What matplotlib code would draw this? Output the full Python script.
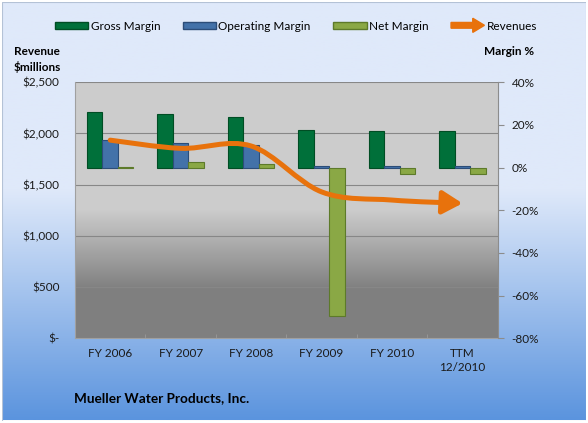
import numpy as np
import matplotlib
matplotlib.use('Agg')
import matplotlib.pyplot as plt
import matplotlib.patches as mpatches
from matplotlib.path import Path
from matplotlib.legend_handler import HandlerPatch

# data
categories = ['FY 2006', 'FY 2007', 'FY 2008', 'FY 2009', 'FY 2010', 'TTM\n12/2010']
gross_margin = [26.0, 25.3, 23.9, 17.8, 17.3, 17.4]
operating_margin = [12.9, 11.5, 10.8, 0.8, 0.8, 0.8]
net_margin = [0.4, 2.6, 1.6, -69.7, -3.1, -3.1]
revenues = [1935, 1855, 1878, 1430, 1350, 1318]

rev_ticks = [0, 500, 1000, 1500, 2000, 2500]
rev_labels = ['$-', '$500', '$1,000', '$1,500', '$2,000', '$2,500']
pct_ticks = [-80, -60, -40, -20, 0, 20, 40]
pct_labels = ['-80%', '-60%', '-40%', '-20%', '0%', '20%', '40%']

GREEN = '#00703a'
BLUE = '#4372a9'
OLIVE = '#8aa845'
ORANGE = '#e8720c'

plt.rcParams['font.family'] = ['Lato', 'DejaVu Sans']
FS = 8.5

W, H = 588, 423
fig = plt.figure(figsize=(W / 100, H / 100), dpi=100, facecolor='white')

# figure background gradient (light blue -> blue)
bg = fig.add_axes([2 / W, 2.5 / H, 584 / W, 418.5 / H])
rows = np.linspace(0, 1, 300)
top_c = np.array([223, 233, 250]) / 255
bot_c = np.array([91, 148, 222]) / 255
t = np.clip((rows - 0.45) / 0.55, 0, 1)[:, None]
grad = (top_c * (1 - t) + bot_c * t)[:, None, :]
bg.imshow(grad, aspect='auto', extent=[0, 1, 0, 1])
bg.axis('off')
bg.add_patch(mpatches.Rectangle((0, 0), 1, 1, transform=bg.transAxes, fill=False,
                                edgecolor='#b4c2d6', lw=0.8))

# plot area
ax = fig.add_axes([75 / W, 1 - 338.3 / H, 422.7 / W, 256 / H])
ax.set_xlim(-0.5, len(categories) - 0.5)
ax.set_ylim(0, 2500)
prow = np.linspace(0, 1, 256)
tp = np.clip((prow - 0.5) / 0.31, 0, 1)[:, None]
pgrad = (np.array([0.80, 0.80, 0.80]) * (1 - tp) + np.array([0.50, 0.50, 0.50]) * tp)[:, None, :]
ax.imshow(pgrad, aspect='auto', extent=[-0.5, len(categories) - 0.5, 0, 2500], zorder=-1)
ax.set_yticks(rev_ticks)
ax.set_yticklabels(rev_labels)
ax.yaxis.grid(True, color='#878787', lw=0.8)
ax.set_axisbelow(True)
ax.tick_params(axis='y', length=0, pad=11, labelsize=FS, colors='#1a1a1a')
x = np.arange(len(categories))
ax.set_xticks(x)
ax.set_xticklabels(categories)
ax.set_xticks(x[:-1] + 0.5, minor=True)
ax.tick_params(axis='x', which='major', length=0, pad=7, labelsize=FS, colors='#1a1a1a')
ax.tick_params(axis='x', which='minor', length=3, direction='in', color='#9a9a9a')
for lbl in ax.get_xticklabels():
    lbl.set_linespacing(1.35)
for s in ['left', 'bottom']:
    ax.spines[s].set_color('#a0a0a0')
    ax.spines[s].set_linewidth(0.8)
ax.spines['top'].set_visible(False)
ax.spines['right'].set_visible(False)

# margins (right axis)
ax2 = ax.twinx()
bw = 0.22
ax2.bar(x - 0.22, gross_margin, bw, color=GREEN, edgecolor='#004d24', lw=0.8)
ax2.bar(x, operating_margin, bw, color=BLUE, edgecolor='#2c4d78', lw=0.8)
ax2.bar(x + 0.22, net_margin, bw, color=OLIVE, edgecolor='#5d7a2a', lw=0.8)
ax2.set_ylim(-80, 40)
ax2.set_yticks(pct_ticks)
ax2.set_yticklabels(pct_labels)
ax2.tick_params(axis='y', length=4, width=0.8, color='#8c8c8c', pad=6,
                labelsize=FS, labelcolor='#1a1a1a')
ax2.spines['right'].set_color('#8c8c8c')
ax2.spines['right'].set_linewidth(0.8)
for s in ['left', 'top', 'bottom']:
    ax2.spines[s].set_visible(False)

# revenues line (smoothed) with arrow head
ax3 = ax.twinx()
ax3.set_ylim(0, 2500)
ax3.axis('off')
pts = np.column_stack([x, revenues]).astype(float)
verts = [pts[0]]
codes = [Path.MOVETO]
n = len(pts)
for i in range(n - 1):
    p0 = pts[max(i - 1, 0)]
    p1 = pts[i]
    p2 = pts[i + 1]
    p3 = pts[min(i + 2, n - 1)]
    verts += [p1 + (p2 - p0) / 6, p2 - (p3 - p1) / 6, p2]
    codes += [Path.CURVE4] * 3
arrow = mpatches.FancyArrowPatch(path=Path(verts, codes),
                                 arrowstyle='-|>,head_length=0.6,head_width=0.35',
                                 mutation_scale=20, color=ORANGE, lw=3.6,
                                 transform=ax3.transData)
ax3.add_artist(arrow)

# legend
h_gross = mpatches.Patch(facecolor=GREEN, edgecolor='#004d24', label='Gross Margin')
h_oper = mpatches.Patch(facecolor=BLUE, edgecolor='#2c4d78', label='Operating Margin')
h_net = mpatches.Patch(facecolor=OLIVE, edgecolor='#5d7a2a', label='Net Margin')
h_rev = mpatches.Patch(facecolor=ORANGE, edgecolor=ORANGE, label='Revenues')


def make_arrow(legend, orig_handle, xdescent, ydescent, width, height, fontsize):
    return mpatches.FancyArrow(-xdescent, -ydescent + height / 2, width, 0,
                               width=height * 0.85, head_width=height * 2.1,
                               head_length=width * 0.35, length_includes_head=True)


fig.legend(handles=[h_gross, h_oper, h_net, h_rev], loc='center',
           bbox_to_anchor=(296 / W, 1 - 26 / H), ncol=4, frameon=False,
           fontsize=FS, handlelength=2.83, handleheight=0.5, handletextpad=0.2,
           columnspacing=1.9, borderpad=0, borderaxespad=0,
           handler_map={h_rev: HandlerPatch(patch_func=make_arrow)})

# axis titles and company name
fig.text(14 / W, 1 - 51.7 / H, 'Revenue', fontsize=FS, fontweight='bold', ha='left', va='center')
fig.text(14 / W, 1 - 66.7 / H, '$millions', fontsize=FS, fontweight='bold', ha='left', va='center')
fig.text(484 / W, 1 - 51.7 / H, 'Margin %', fontsize=FS, fontweight='bold', ha='left', va='center')
fig.text(73.5 / W, 1 - 398.3 / H, 'Mueller Water Products, Inc.', fontsize=9.8,
         fontweight='bold', ha='left', va='center')

fig.savefig('out.png', dpi=100, facecolor='white')
